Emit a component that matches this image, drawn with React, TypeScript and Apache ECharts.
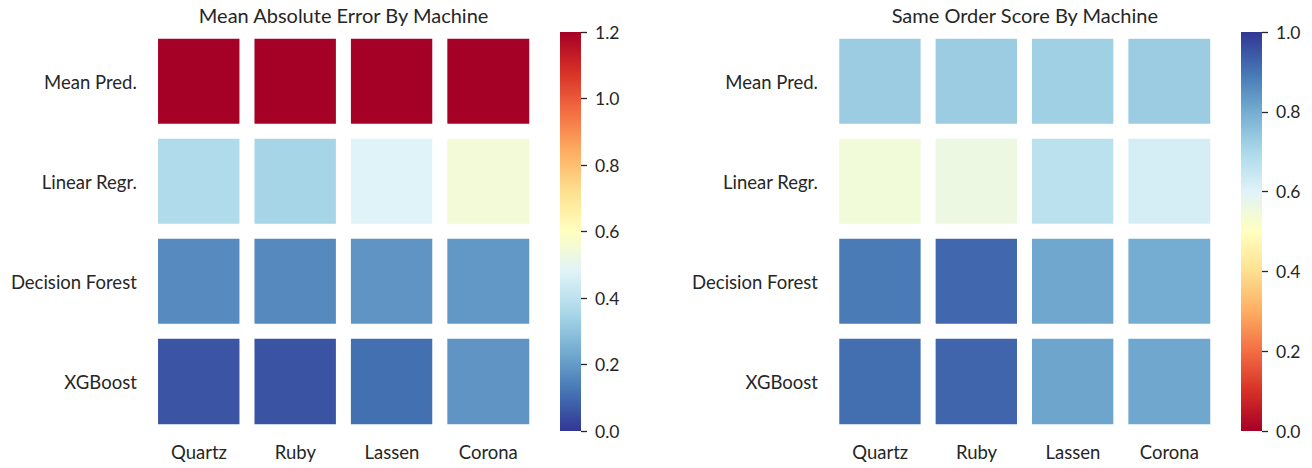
import React, { useEffect, useRef } from "react";
import * as echarts from "echarts";

const machines = ["Quartz", "Ruby", "Lassen", "Corona"];
const models = ["Mean Pred.", "Linear Regr.", "Decision Forest", "XGBoost"];

// Mean absolute error (rows = models, columns = machines)
const maeMeanPred = [1.2, 1.2, 1.2, 1.2];
const maeLinear = [0.37, 0.35, 0.48, 0.55];
const maeForest = [0.165, 0.163, 0.187, 0.195];
const maeXgb = [0.059, 0.056, 0.11, 0.186];

// Same order score
const sosMeanPred = [0.73, 0.73, 0.72, 0.73];
const sosLinear = [0.545, 0.56, 0.67, 0.62];
const sosForest = [0.89, 0.92, 0.81, 0.8];
const sosXgb = [0.91, 0.925, 0.815, 0.81];

const maeTitle = "Mean Absolute Error By Machine";
const sosTitle = "Same Order Score By Machine";
const maeMax = 1.2;
const sosMax = 1.0;
const tickStep = 0.2;

const RdYlBu = [
  "#a50026", "#d73027", "#f46d43", "#fdae61", "#fee090", "#ffffbf",
  "#e0f3f8", "#abd9e9", "#74add1", "#4575b4", "#313695",
];
const RdYlBu_r = [...RdYlBu].reverse();

const FONT = "Lato, 'Open Sans', sans-serif";
const TXT = "#262626";

function toCells(rows: number[][]) {
  const out: number[][] = [];
  rows.forEach((row, yi) => row.forEach((v, xi) => out.push([xi, yi, v])));
  return out;
}

function gradient(colorsTopToBottom: string[]) {
  const n = colorsTopToBottom.length;
  return {
    type: "linear",
    x: 0, y: 0, x2: 0, y2: 1,
    colorStops: colorsTopToBottom.map((c, i) => ({ offset: i / (n - 1), color: c })),
  };
}

export default function App() {
  const ref = useRef<HTMLDivElement>(null);
  useEffect(() => {
    if (!ref.current) return;
    const chart = echarts.init(ref.current, null, { renderer: "svg" });
    const maeData = toCells([maeMeanPred, maeLinear, maeForest, maeXgb]);
    const sosData = toCells([sosMeanPred, sosLinear, sosForest, sosXgb]);

    const catX = (gi: number) => ({
      type: "category",
      gridIndex: gi,
      data: machines,
      axisLine: { show: false },
      axisTick: { show: false },
      splitLine: { show: false },
      axisLabel: { color: TXT, fontSize: 18.5, fontFamily: FONT, margin: 11 },
    });
    const catY = (gi: number) => ({
      type: "category",
      gridIndex: gi,
      data: models,
      inverse: true,
      axisLine: { show: false },
      axisTick: { show: false },
      splitLine: { show: false },
      axisLabel: { color: TXT, fontSize: 18.5, fontFamily: FONT, margin: 14 },
    });
    const cbX = (gi: number) => ({
      type: "category",
      gridIndex: gi,
      data: ["cb"],
      show: false,
    });
    const cbY = (gi: number, max: number) => ({
      type: "value",
      gridIndex: gi,
      position: "right",
      min: 0,
      max,
      interval: tickStep,
      axisLine: { show: false },
      axisTick: { show: true, length: 6, lineStyle: { color: TXT, width: 1.3 } },
      splitLine: { show: false },
      axisLabel: {
        color: TXT, fontSize: 17.5, fontFamily: FONT, margin: 14,
        formatter: (v: number) => v.toFixed(1),
      },
    });

    const titleStyle = { color: TXT, fontSize: 20, fontWeight: "normal", fontFamily: FONT };

    chart.setOption({
      animation: false,
      backgroundColor: "#ffffff",
      title: [
        { text: maeTitle, left: 343.6, top: 5, padding: 0, textAlign: "center", textStyle: titleStyle },
        { text: sosTitle, left: 1024.8, top: 5, padding: 0, textAlign: "center", textStyle: titleStyle },
      ],
      grid: [
        { left: 150.8, top: 31.5, width: 385.7, height: 400 },
        { left: 832, top: 31.5, width: 385.5, height: 400 },
        { left: 560, top: 32, width: 21, height: 399 },
        { left: 1241, top: 32, width: 21, height: 399 },
      ],
      xAxis: [catX(0), catX(1), cbX(2), cbX(3)],
      yAxis: [catY(0), catY(1), cbY(2, maeMax), cbY(3, sosMax)],
      visualMap: [
        { type: "continuous", show: false, min: 0, max: maeMax, seriesIndex: 0, inRange: { color: RdYlBu_r } },
        { type: "continuous", show: false, min: 0, max: sosMax, seriesIndex: 1, inRange: { color: RdYlBu } },
      ],
      series: [
        {
          type: "heatmap", xAxisIndex: 0, yAxisIndex: 0, data: maeData,
          itemStyle: { borderColor: "#ffffff", borderWidth: 15 },
          emphasis: { disabled: true },
        },
        {
          type: "heatmap", xAxisIndex: 1, yAxisIndex: 1, data: sosData,
          itemStyle: { borderColor: "#ffffff", borderWidth: 15 },
          emphasis: { disabled: true },
        },
        {
          type: "bar", xAxisIndex: 2, yAxisIndex: 2, data: [maeMax], barWidth: "100%",
          itemStyle: { color: gradient(RdYlBu) },
          silent: true,
        },
        {
          type: "bar", xAxisIndex: 3, yAxisIndex: 3, data: [sosMax], barWidth: "100%",
          itemStyle: { color: gradient(RdYlBu_r) },
          silent: true,
        },
      ],
    });
    return () => chart.dispose();
  }, []);
  return (
    <div
      ref={ref}
      style={{ position: "fixed", left: 0, top: 0, width: 1312, height: 468, background: "#fff" }}
    />
  );
}
